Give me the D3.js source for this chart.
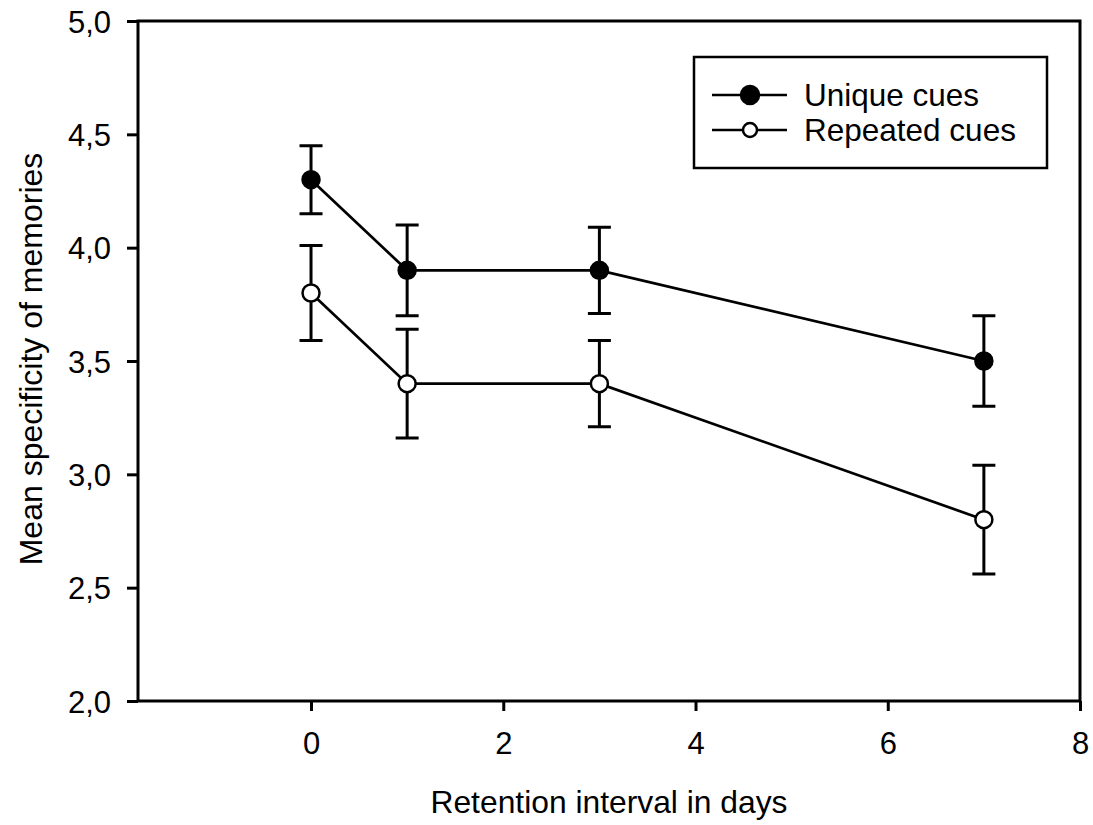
<!DOCTYPE html>
<html>
<head>
<meta charset="utf-8">
<script src="https://cdn.jsdelivr.net/npm/d3@7"></script>
<style>
  body { margin: 0; background: #fff; }
  text { font-family: "Liberation Sans", Arial, sans-serif; fill: #000; }
</style>
</head>
<body>
<svg id="chart" width="1093" height="825"></svg>
<script>
// data
const days = [0, 1, 3, 7]
const uniqueMean = [4.3, 3.9, 3.9, 3.5]
const uniqueErr = [0.15, 0.2, 0.19, 0.2]
const repeatedMean = [3.8, 3.4, 3.4, 2.8]
const repeatedErr = [0.21, 0.24, 0.19, 0.24]
const xTicks = [0, 2, 4, 6, 8]
const yTicks = [2.0, 2.5, 3.0, 3.5, 4.0, 4.5, 5.0]
const seriesNames = ["Unique cues", "Repeated cues"]

const svg = d3.select('#chart')
const plotL = 138, plotR = 1080, plotT = 21, plotB = 701

const x = d3.scaleLinear().domain([-1.8, 8]).range([plotL, plotR])
const y = d3.scaleLinear().domain([2, 5]).range([plotB, plotT])

const series = [
  { name: seriesNames[0], mean: uniqueMean, err: uniqueErr, fill: '#000' },
  { name: seriesNames[1], mean: repeatedMean, err: repeatedErr, fill: '#fff' }
]

// axes
const xAxis = svg.append('g')
  .attr('transform', `translate(0,${plotB})`)
  .call(d3.axisBottom(x).tickValues(xTicks).tickSize(10).tickSizeOuter(0).tickPadding(14))
const yAxis = svg.append('g')
  .attr('transform', `translate(${plotL},0)`)
  .call(d3.axisLeft(y).tickValues(yTicks).tickSize(11).tickSizeOuter(0).tickPadding(16)
    .tickFormat(d => d3.format('.1f')(d).replace('.', ',')))

for (const g of [xAxis, yAxis]) {
  g.select('.domain').remove()
  g.selectAll('.tick line').attr('stroke', '#000').attr('stroke-width', 3)
  g.selectAll('.tick text').attr('font-size', 31).style('font-family', '"Liberation Sans", Arial, sans-serif')
}
xAxis.selectAll('.tick text').attr('dy', null).attr('y', 53)
yAxis.selectAll('.tick text').attr('dy', '0.36em')

// frame
svg.append('rect')
  .attr('x', plotL).attr('y', plotT)
  .attr('width', plotR - plotL).attr('height', plotB - plotT)
  .attr('fill', 'none').attr('stroke', '#000').attr('stroke-width', 3)

// axis titles
svg.append('text')
  .attr('x', (plotL + plotR) / 2).attr('y', 813)
  .attr('text-anchor', 'middle').attr('font-size', 31.8)
  .text('Retention interval in days')
svg.append('text')
  .attr('transform', `translate(42,359) rotate(-90)`)
  .attr('text-anchor', 'middle').attr('font-size', 32)
  .text('Mean specificity of memories')

const line = d3.line().x(d => x(d[0])).y(d => y(d[1]))
const cap = 11.5

series.forEach(s => {
  const pts = days.map((d, i) => [d, s.mean[i], s.err[i]])
  const g = svg.append('g')

  // error bars
  g.selectAll('.eb').data(pts).enter().append('path')
    .attr('d', d => {
      const cx = x(d[0]), y1 = y(d[1] + d[2]), y2 = y(d[1] - d[2])
      return `M${cx},${y1}V${y2}M${cx - cap},${y1}H${cx + cap}M${cx - cap},${y2}H${cx + cap}`
    })
    .attr('stroke', '#000').attr('stroke-width', 3).attr('fill', 'none')

  g.append('path').datum(pts)
    .attr('d', line)
    .attr('stroke', '#000').attr('stroke-width', 2.7).attr('fill', 'none')

  g.selectAll('circle').data(pts).enter().append('circle')
    .attr('cx', d => x(d[0])).attr('cy', d => y(d[1]))
    .attr('r', 8.5)
    .attr('fill', s.fill).attr('stroke', '#000').attr('stroke-width', 2.5)
})

// legend
const legend = svg.append('g')
legend.append('rect')
  .attr('x', 694).attr('y', 57).attr('width', 353).attr('height', 111)
  .attr('fill', '#fff').attr('stroke', '#000').attr('stroke-width', 2.5)

series.forEach((s, i) => {
  const ly = 95 + i * 35
  legend.append('line')
    .attr('x1', 712).attr('x2', 787).attr('y1', ly).attr('y2', ly)
    .attr('stroke', '#000').attr('stroke-width', 2.7)
  legend.append('circle')
    .attr('cx', 750).attr('cy', ly).attr('r', s.fill === '#000' ? 9 : 7)
    .attr('fill', s.fill).attr('stroke', '#000').attr('stroke-width', 2.5)
  legend.append('text')
    .attr('x', 804).attr('y', ly).attr('dy', '0.36em')
    .attr('font-size', 31.5)
    .text(s.name)
})
</script>
</body>
</html>
